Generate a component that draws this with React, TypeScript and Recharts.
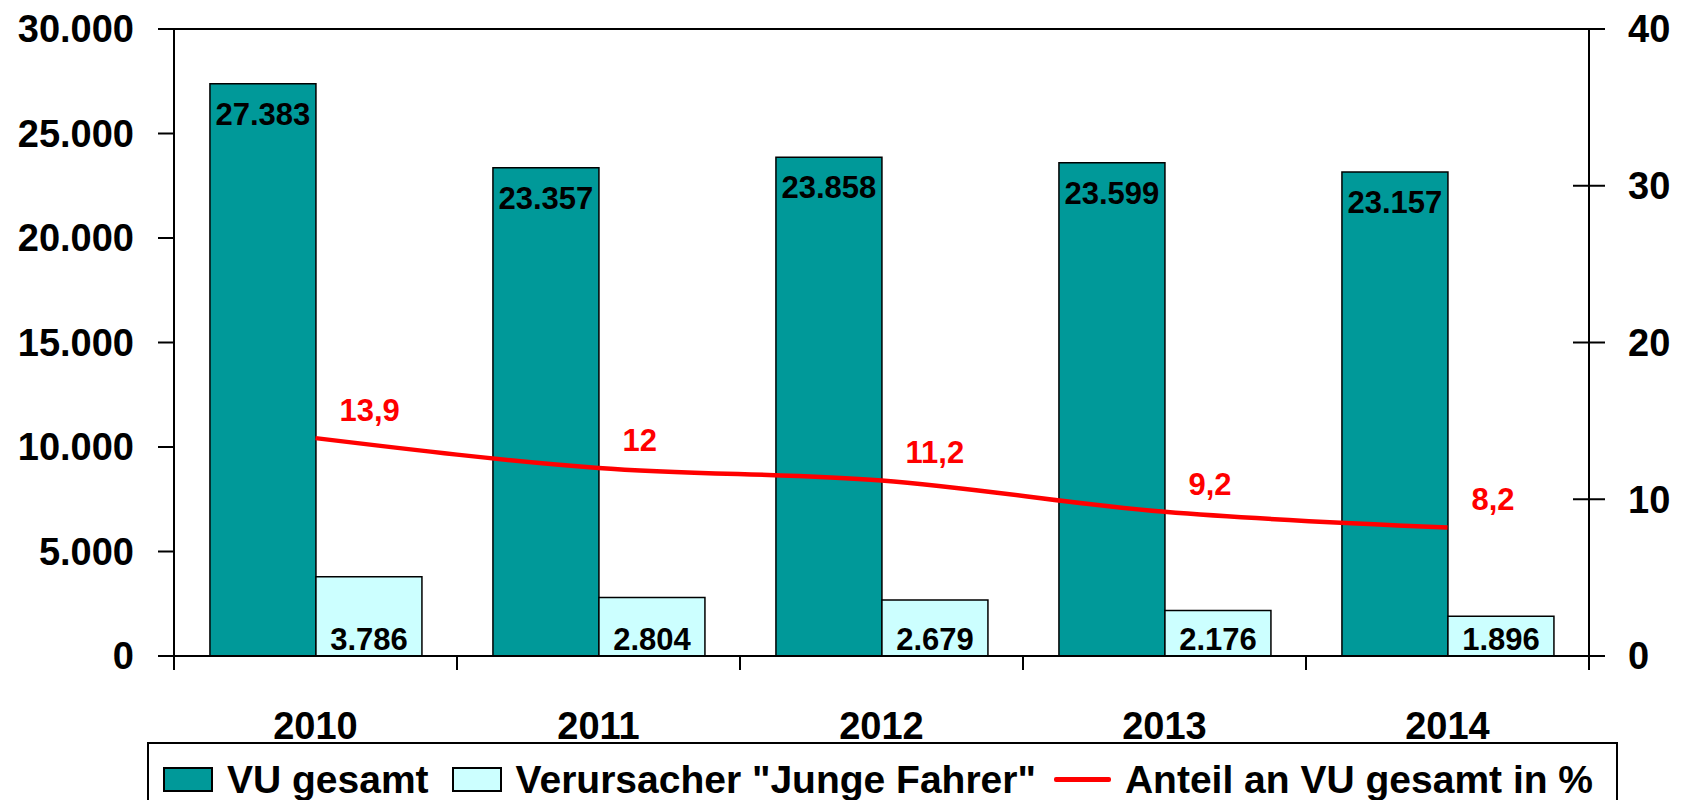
import { ComposedChart, Bar, Line, XAxis, YAxis, ReferenceLine, LabelList, Legend } from 'recharts'

const YEARS = ['2010', '2011', '2012', '2013', '2014']
const VU_GESAMT = [27383, 23357, 23858, 23599, 23157]
const JUNGE_FAHRER = [3786, 2804, 2679, 2176, 1896]
const ANTEIL = [13.9, 12, 11.2, 9.2, 8.2]
const LEFT_TICKS = [0, 5000, 10000, 15000, 20000, 25000, 30000]
const RIGHT_TICKS = [0, 10, 20, 30, 40]

const SERIES = [
  { key: 'vu', name: 'VU gesamt', color: '#009999', kind: 'rect' },
  { key: 'junge', name: 'Verursacher "Junge Fahrer"', color: '#CCFFFF', kind: 'rect' },
  { key: 'anteil', name: 'Anteil an VU gesamt in %', color: '#FF0000', kind: 'line' },
]

const FONT = '"Liberation Sans", Arial, Helvetica, sans-serif'
const X_TICK_SIZE = 14
const X_TICK_MARGIN = 42
const R_TICK_SIZE = 16
const R_TICK_MARGIN = 23

const data = YEARS.map((year, i) => ({
  year,
  vu: VU_GESAMT[i],
  junge: JUNGE_FAHRER[i],
  anteil: ANTEIL[i],
}))

// 27383 -> "27.383"
const fmtThousands = (v: number) => String(v).replace(/\B(?=(\d{3})+(?!\d))/g, '.')
const fmtPct = (v: number) => String(v).replace('.', ',')

function YearTick(props: any) {
  const { x, y, payload, index, visibleTicksCount } = props
  const half = payload?.offset || 141.5
  const axisY = y - X_TICK_SIZE - X_TICK_MARGIN
  const last = index === (visibleTicksCount ?? YEARS.length) - 1
  return (
    <g>
      <line x1={x - half} x2={x - half} y1={axisY} y2={axisY + X_TICK_SIZE} stroke="#000" strokeWidth={2} />
      {last && <line x1={x + half} x2={x + half} y1={axisY} y2={axisY + X_TICK_SIZE} stroke="#000" strokeWidth={2} />}
      <text x={x} y={y} dy="0.71em" textAnchor="middle" fill="#000" fontSize={38} fontWeight={700} fontFamily={FONT}>
        {payload.value}
      </text>
    </g>
  )
}

function PctTick(props: any) {
  const { x, y, payload } = props
  const axisX = x - R_TICK_MARGIN - R_TICK_SIZE
  return (
    <g>
      <line x1={axisX - R_TICK_SIZE} x2={axisX + R_TICK_SIZE} y1={y} y2={y} stroke="#000" strokeWidth={2} />
      <text x={x} y={y} dy="0.355em" textAnchor="start" fill="#000" fontSize={38} fontWeight={700} fontFamily={FONT}>
        {payload.value}
      </text>
    </g>
  )
}

function PctLabel(props: any) {
  const { x, y, value } = props
  return (
    <text x={x + 24} y={y - 17} fill="#FF0000" fontSize={31} fontWeight={700} fontFamily={FONT}>
      {fmtPct(value)}
    </text>
  )
}

function LegendBox() {
  return (
    <div
      style={{
        boxSizing: 'border-box',
        width: '100%',
        height: '100%',
        border: '2px solid #000',
        borderBottom: 'none',
        background: '#fff',
        display: 'flex',
        alignItems: 'center',
        paddingLeft: 14,
        paddingTop: 16,
        alignContent: 'flex-start',
        fontFamily: FONT,
        fontWeight: 700,
        fontSize: 39,
        lineHeight: '39px',
        color: '#000',
      }}
    >
      <div style={{ display: 'flex', alignItems: 'center', height: 39, alignSelf: 'flex-start' }}>
        {SERIES.map((s, i) => (
          <div key={s.key} style={{ display: 'flex', alignItems: 'center', marginLeft: i === 0 ? 0 : 23 }}>
            {s.kind === 'rect' ? (
              <span style={{ display: 'inline-block', boxSizing: 'border-box', width: 50, height: 25, background: s.color, border: '2px solid #000' }} />
            ) : (
              <span style={{ display: 'inline-block', width: 57, height: 5, background: s.color, borderRadius: 2, marginLeft: -5 }} />
            )}
            <span style={{ marginLeft: 14, whiteSpace: 'nowrap' }}>{s.name}</span>
          </div>
        ))}
      </div>
    </div>
  )
}

export default function App() {
  return (
    <div style={{ position: 'absolute', left: 0, top: 0, width: 1681, height: 800, overflow: 'hidden', background: '#fff' }}>
      <ComposedChart
        width={1681}
        height={800}
        data={data}
        margin={{ top: 29, right: 0, bottom: 0, left: 0 }}
        barCategoryGap="12.7%"
        barGap={0}
      >
        <XAxis
          dataKey="year"
          height={144}
          axisLine={{ stroke: '#000', strokeWidth: 2 }}
          tickLine={false}
          tickSize={X_TICK_SIZE}
          tickMargin={X_TICK_MARGIN}
          tick={<YearTick />}
          interval={0}
        />
        <YAxis
          yAxisId="left"
          width={174}
          domain={[0, 30000]}
          ticks={LEFT_TICKS}
          interval={0}
          tickFormatter={fmtThousands}
          axisLine={{ stroke: '#000', strokeWidth: 2 }}
          tickLine={{ stroke: '#000', strokeWidth: 2 }}
          tickSize={16}
          tickMargin={24}
          tick={{ fill: '#000', fontSize: 38, fontWeight: 700, fontFamily: FONT }}
        />
        <YAxis
          yAxisId="right"
          orientation="right"
          width={92}
          domain={[0, 40]}
          ticks={RIGHT_TICKS}
          interval={0}
          axisLine={{ stroke: '#000', strokeWidth: 2 }}
          tickLine={false}
          tickSize={R_TICK_SIZE}
          tickMargin={R_TICK_MARGIN}
          tick={<PctTick />}
        />
        <ReferenceLine yAxisId="left" y={30000} stroke="#000" strokeWidth={2} />
        <Bar yAxisId="left" dataKey="vu" name={SERIES[0].name} fill={SERIES[0].color} stroke="#000" strokeWidth={1.5} isAnimationActive={false}>
          <LabelList
            dataKey="vu"
            position="insideTop"
            offset={19}
            formatter={(v: any) => fmtThousands(v)}
            fill="#000"
            fontSize={31}
            fontWeight={700}
            fontFamily={FONT}
          />
        </Bar>
        <Bar yAxisId="left" dataKey="junge" name={SERIES[1].name} fill={SERIES[1].color} stroke="#000" strokeWidth={1.5} isAnimationActive={false}>
          <LabelList
            dataKey="junge"
            position="insideBottom"
            offset={6}
            formatter={(v: any) => fmtThousands(v)}
            fill="#000"
            fontSize={31}
            fontWeight={700}
            fontFamily={FONT}
          />
        </Bar>
        <Line
          yAxisId="right"
          type="monotone"
          dataKey="anteil"
          name={SERIES[2].name}
          stroke={SERIES[2].color}
          strokeWidth={4.5}
          dot={false}
          activeDot={false}
          isAnimationActive={false}
        >
          <LabelList dataKey="anteil" content={<PctLabel />} />
        </Line>
        <Legend
          layout="horizontal"
          verticalAlign="middle"
          align="center"
          wrapperStyle={{ left: 147, top: 742, width: 1471, height: 58 }}
          content={() => <LegendBox />}
        />
      </ComposedChart>
    </div>
  )
}
